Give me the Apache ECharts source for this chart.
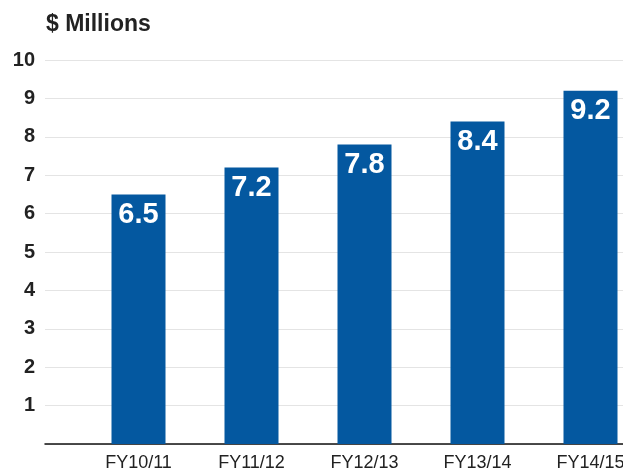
<!DOCTYPE html>
<html>
<head>
<meta charset="utf-8">
<script src="https://cdn.jsdelivr.net/npm/echarts@6/dist/echarts.min.js"></script>
<style>
  html, body { margin: 0; padding: 0; background: #fff; }
  #chart { width: 623px; height: 473px; }
</style>
</head>
<body>
<div id="chart"></div>
<script>
const years = ['FY10/11', 'FY11/12', 'FY12/13', 'FY13/14', 'FY14/15']
const spend = [6.5, 7.2, 7.8, 8.4, 9.2]
const yMin = 0
const yMax = 10
const yStep = 1

const chart = echarts.init(document.getElementById('chart'))
const font = 'Liberation Sans, Arial, sans-serif'

chart.setOption({
  animation: false,
  title: {
    text: '$ Millions',
    left: 41,
    top: 8,
    textStyle: { fontFamily: font, fontSize: 23, fontWeight: 'bold', color: '#222' }
  },
  // grid 0 carries the y labels, gridlines and baseline; grid 1 carries the bars
  // (its last band runs past the right edge, as in the source image)
  grid: [
    { left: 45, right: 0, top: 60, bottom: 29 },
    { left: 82, width: 565, top: 60, bottom: 29, outerBoundsMode: 'none', containLabel: false }
  ],
  xAxis: [
    {
      gridIndex: 0,
      type: 'category',
      data: [''],
      axisLine: { lineStyle: { color: '#111', width: 1.5 } },
      axisTick: { show: false },
      axisLabel: { show: false }
    },
    {
      gridIndex: 1,
      type: 'category',
      data: years,
      axisLine: { show: false },
      axisTick: { show: false },
      axisLabel: { fontFamily: font, fontSize: 18, color: '#222', margin: 10 }
    }
  ],
  yAxis: [
    {
      gridIndex: 0,
      type: 'value',
      min: yMin,
      max: yMax,
      interval: yStep,
      axisLine: { show: false },
      axisTick: { show: false },
      axisLabel: {
        fontFamily: font, fontSize: 20, fontWeight: 'bold', color: '#222', margin: 10,
        formatter: (v) => (v === 0 ? '' : v)
      },
      splitLine: { lineStyle: { color: '#e4e4e4' } }
    },
    {
      gridIndex: 1,
      type: 'value',
      min: yMin,
      max: yMax,
      interval: yStep,
      show: false
    }
  ],
  series: [
    {
      type: 'bar',
      xAxisIndex: 1,
      yAxisIndex: 1,
      data: spend,
      barWidth: 54,
      itemStyle: { color: '#0458a0' },
      label: {
        show: true,
        position: 'insideTop',
        distance: 6,
        fontFamily: font,
        fontSize: 29,
        fontWeight: 'bold',
        color: '#fff'
      }
    }
  ]
})
</script>
</body>
</html>
